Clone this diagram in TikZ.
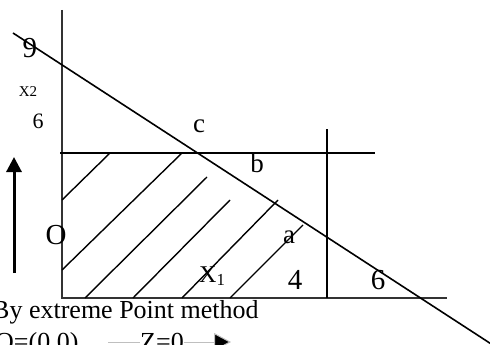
\documentclass[tikz,border=0pt]{standalone}
\usepackage{fontspec}
\setmainfont{Liberation Serif}
\usetikzlibrary{arrows.meta}
\tikzset{
  axis/.style  = {draw=black!80, line width=2.2pt},
  bound/.style = {draw=black, line width=1.6pt},
  hatch/.style = {draw=black, line width=1.4pt},
  lbl/.style   = {font=\fontsize{27}{30}\selectfont, inner sep=0pt},
  big/.style   = {font=\fontsize{29}{32}\selectfont, inner sep=0pt},
  small/.style = {font=\fontsize{15}{18}\selectfont, inner sep=0pt},
  note/.style  = {font=\fontsize{26}{30}\selectfont, inner sep=0pt, anchor=base west},
}

\begin{document}
\begin{tikzpicture}[x=1pt,y=-1pt]
  \useasboundingbox (0,0) rectangle (490,345);
  % axes
  \coordinate (O) at (62,298);
  \coordinate (ytop) at (62,10);
  \coordinate (xend) at (447,298);
  \draw[axis] (ytop) -- (O) -- (xend);

  % constraint lines
  \draw[bound] (60,153) -- (375,153);
  \draw[bound] (327,129) -- (327,298);
  \draw[bound] (13,33) -- (492,344.5);

  % hatching of the feasible region
  \foreach \ax/\ay/\bx/\by in {62/200/110/153, 62/270/182/153, 85/298/207/177,
                               133/298/230/200, 182/298/278/200, 230/298/303/225}
    \draw[hatch] (\ax,\ay) -- (\bx,\by);

  % labels
  \node[big] (nine) at (30,48) {9};
  \node[small] (xtwo) at (28,92) {X2};
  \node[font=\fontsize{22}{26}\selectfont, inner sep=0pt] (sixy) at (38,121) {6};
  \node[lbl] (c) at (199,126) {c};
  \node[lbl] (b) at (257,163) {b};
  \node[lbl] (a) at (289,237) {a};
  \node[big] (four) at (295,280) {4};
  \node[big] (sixx) at (378,280) {6};
  \node[big] (orig) at (56,235) {O};
  \node[font=\fontsize{24}{28}\selectfont, inner sep=0pt, anchor=base west] (xone)
    at (199,282) {X\textsubscript{1}};

  % direction arrow
  \coordinate (up0) at (14,273);
  \coordinate (up1) at (14,157);
  \draw[line width=3pt, -{Triangle[width=15pt,length=15pt]}] (up0) -- (up1);

  % method note
  \node[note] (method) at (-8,318) {By extreme Point method};
  \node[note] (opt) at (-5,350) {O=(0,0)};
  \node[note] (zval) at (140,350) {Z=0};
  \coordinate (zl) at (108,342);
  \coordinate (zr) at (231,342);
  \draw[black!25, line width=1pt] (zl) -- (zval.west |- zl);
  \draw[black!25, line width=1pt, -{Triangle[width=18pt,length=17pt,fill=black]}]
    (zval.east |- zr) -- (zr);
\end{tikzpicture}
\end{document}
